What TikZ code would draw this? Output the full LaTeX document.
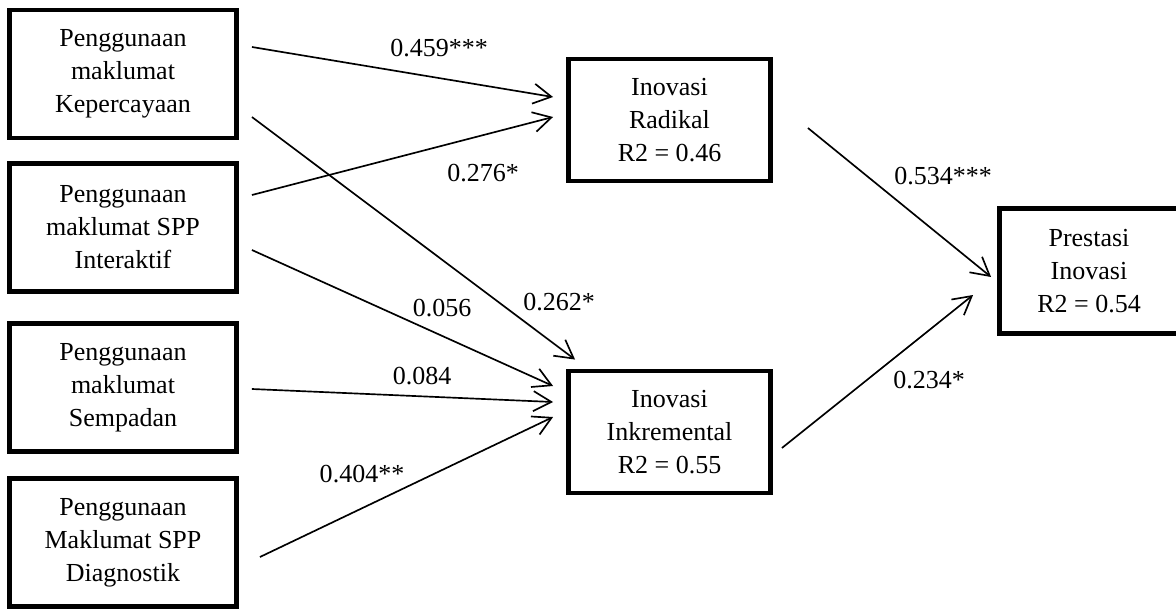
\documentclass[tikz,border=0pt]{standalone}
\usepackage{fontspec}
\setmainfont{Liberation Serif}
\usetikzlibrary{arrows.meta}
\tikzset{
  varbox/.style={draw,line width=2.8pt,inner sep=0pt,align=center,font=\fontsize{14.8}{18.8}\selectfont},
  leftbox/.style={varbox,minimum width=4.54cm,minimum height=2.56cm},
  midbox/.style={varbox,minimum width=4.04cm,minimum height=2.44cm},
  effect/.style={line width=.95pt,-{Straight Barb[length=.36cm,width=.4cm]}},
  coef/.style={inner sep=0pt,font=\fontsize{14.8}{18.8}\selectfont}
}

\begin{document}
\begin{tikzpicture}[x=.02cm,y=.02cm]
        \useasboundingbox (0,0) rectangle (1176,610);
        % exogenous variables
        \node[leftbox] (kepercayaan) at (123,536) {Penggunaan\\maklumat\\Kepercayaan};
        \node[leftbox] (interaktif) at (123,382.5) {Penggunaan\\maklumat SPP\\Interaktif};
        \node[leftbox] (sempadan) at (123,222.5) {Penggunaan\\maklumat\\Sempadan};
        \node[leftbox] (diagnostik) at (123,67.5) {Penggunaan\\Maklumat SPP\\Diagnostik};
        % innovation and performance
        \node[midbox] (radikal) at (669.5,490) {Inovasi\\Radikal\\R2 = 0.46};
        \node[midbox] (inkremental) at (669.5,178) {Inovasi\\Inkremental\\R2 = 0.55};
        \node[varbox,minimum width=3.58cm,minimum height=2.5cm] (prestasi) at (1089,339) {Prestasi\\Inovasi\\R2 = 0.54};
        % paths
        \draw[effect] ([shift={(13,27)}]kepercayaan.east) -- ([shift={(-13,23)}]radikal.west);
        \draw[effect] ([shift={(13,-43)}]kepercayaan.east) -- ([shift={(9,9)}]inkremental.north west);
        \draw[effect] ([shift={(13,32.5)}]interaktif.east) -- ([shift={(-13,3)}]radikal.west);
        \draw[effect] ([shift={(13,-22.5)}]interaktif.east) -- ([shift={(-13,46)}]inkremental.west);
        \draw[effect] ([shift={(13,-1.5)}]sempadan.east) -- ([shift={(-13,30)}]inkremental.west);
        \draw[effect] ([shift={(21,-14.5)}]diagnostik.east) -- ([shift={(-13,15)}]inkremental.west);
        \draw[effect] ([shift={(35,-8)}]radikal.east) -- ([shift={(-6,-6)}]prestasi.west);
        \draw[effect] ([shift={(9,-16)}]inkremental.east) -- ([shift={(-24,-24)}]prestasi.west);
        % coefficients
        \node[coef] (c459) at (439,562) {0.459***};
        \node[coef] (c276) at (483,437) {0.276*};
        \node[coef] (c056) at (442,302) {0.056};
        \node[coef] (c262) at (559,308) {0.262*};
        \node[coef] (c084) at (422,234) {0.084};
        \node[coef] (c404) at (362,136) {0.404**};
        \node[coef] (c534) at (943,434) {0.534***};
        \node[coef] (c234) at (929,230) {0.234*};
      \end{tikzpicture}
\end{document}
